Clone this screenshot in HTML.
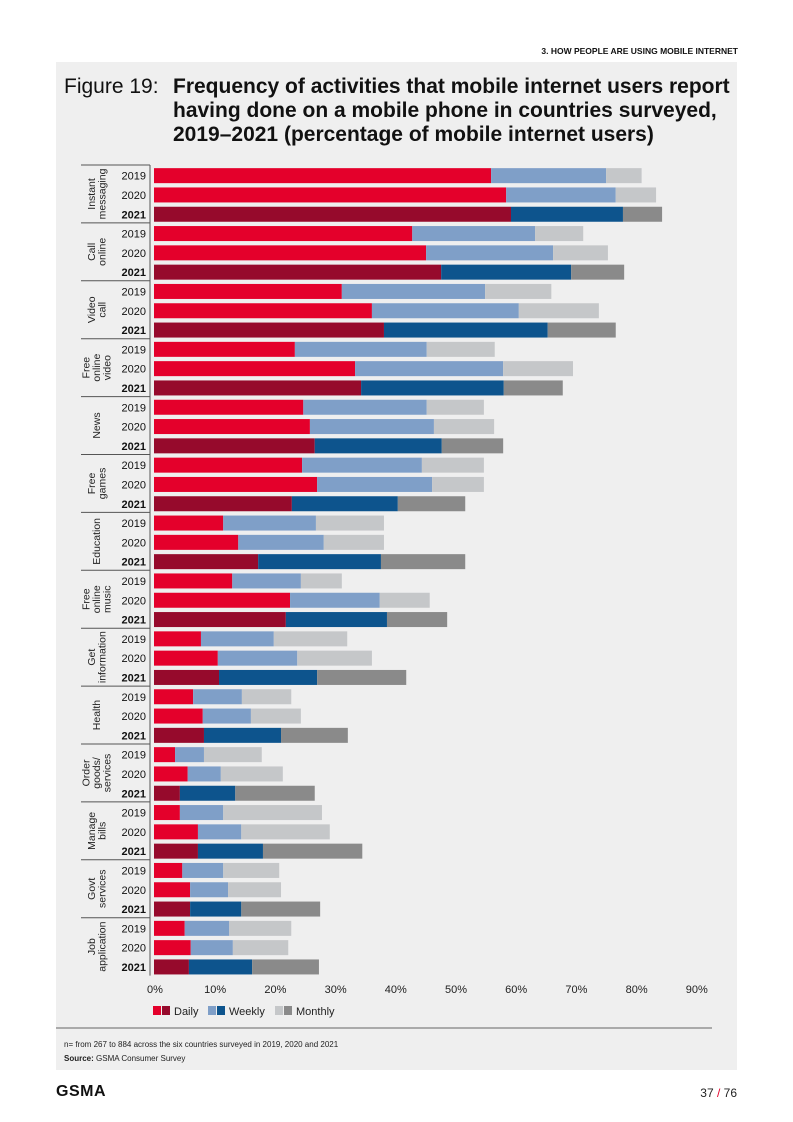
<!DOCTYPE html>
<html><head><meta charset="utf-8"><style>
body{margin:0;width:793px;height:1122px;background:#fff;font-family:"Liberation Sans",sans-serif;position:relative;overflow:hidden}
.abs{position:absolute}
</style></head><body>
<div class="abs" style="right:55px;top:46px;font-size:8.5px;font-weight:bold;color:#111">3. HOW PEOPLE ARE USING MOBILE INTERNET</div>
<div class="abs" style="left:56px;top:62px;width:681px;height:1008px;background:#efefef"></div>
<div class="abs" style="left:64px;top:75px;font-size:21px;color:#111">Figure 19:</div>
<div class="abs" style="left:173px;top:75px;font-size:21px;font-weight:bold;line-height:24px;color:#111;width:565px">Frequency of activities that mobile internet users report having done on a mobile phone in countries surveyed, 2019–2021 (percentage of mobile internet users)</div>
<svg class="abs" style="left:0;top:0" width="793" height="1122" id="chart"></svg>
<div class="abs" style="left:64px;top:1040px;font-size:8px;color:#222">n= from 267 to 884 across the six countries surveyed in 2019, 2020 and 2021</div>
<div class="abs" style="left:64px;top:1054px;font-size:8px;color:#222"><b>Source:</b> GSMA Consumer Survey</div>
<div class="abs" style="left:56px;top:1083px;font-size:16px;font-weight:bold;letter-spacing:0.5px;color:#111">GSMA</div>
<div class="abs" style="right:56px;top:1086px;font-size:12px;color:#222">37 <span style="color:#e4002b">/</span> 76</div>
<script>
const groups=["Instant messaging","Call online","Video call","Free online video","News","Free games","Education","Free online music","Get information","Health","Order goods/ services","Manage bills","Govt services","Job application"];
const groupLines=[["Instant","messaging"],["Call","online"],["Video","call"],["Free","online","video"],["News"],["Free","games"],["Education"],["Free","online","music"],["Get","information"],["Health"],["Order","goods/","services"],["Manage","bills"],["Govt","services"],["Job","application"]];
const years=["2019","2020","2021"];
const daily=[56,58.5,59.3,42.9,45.2,47.7,31.2,36.2,38.2,23.4,33.4,34.4,24.8,25.9,26.7,24.6,27.1,22.9,11.5,14,17.3,13,22.6,21.9,7.8,10.6,10.8,6.5,8.1,8.3,3.5,5.6,4.3,4.3,7.3,7.3,4.7,6,6,5.1,6.1,5.8];
const dailyOrWeekly=[75.1,76.7,77.9,63.3,66.3,69.3,55,60.6,65.4,45.3,58,58.1,45.3,46.5,47.8,44.5,46.2,40.5,26.9,28.2,37.7,24.4,37.5,38.7,19.9,23.8,27.1,14.6,16.1,21.1,8.3,11.1,13.5,11.5,14.5,18.1,11.5,12.3,14.5,12.5,13.1,16.3];
const anyFreq=[81,83.4,84.4,71.3,75.4,78.1,66,73.9,76.7,56.6,69.6,67.9,54.8,56.5,58,54.8,54.8,51.7,38.2,38.2,51.7,31.2,45.8,48.7,32.1,36.2,41.9,22.8,24.4,32.2,17.9,21.4,26.7,27.9,29.2,34.6,20.8,21.1,27.6,22.8,22.3,27.4];
const ticks=[0,10,20,30,40,50,60,70,80,90];
const svg=document.getElementById('chart');const NS="http://www.w3.org/2000/svg";
const x0=154,pxPer=6.02,y0=165,rowH=19.3,barH=15;
const xs=v=>x0+v*pxPer; const ys=i=>y0+i*rowH;
function el(t,a,txt){const e=document.createElementNS(NS,t);for(const k in a)e.setAttribute(k,a[k]);if(txt!==undefined)e.textContent=txt;svg.appendChild(e);return e;}
const light=["#e4002b","#7f9fc8","#c5c7c9"],dark=["#960a2c","#0d548d","#8a8a8a"];
let l=el('line',{x1:150,x2:150,y1:y0,y2:ys(42)});l.setAttribute('stroke','#555');


groups.forEach((g,gi)=>{
  const top=ys(gi*3);
  let s=el('line',{x1:81,x2:150,y1:top,y2:top,stroke:'#555'});
  
  
  const cy=top+rowH*1.5, lines=groupLines[gi], lh=10.5;
  const t=el('text',{transform:`translate(${96},${cy}) rotate(-90)`,'text-anchor':'middle','font-size':'10.5',fill:'#222'});
  
  
  lines.forEach((ln,k)=>{const ts=document.createElementNS(NS,'tspan');ts.setAttribute('x',0);ts.setAttribute('y',(k-(lines.length-1)/2)*lh+4);ts.textContent=ln;t.appendChild(ts);});
  years.forEach((yr,yi)=>{
    const i=gi*3+yi, y=ys(i)+(rowH-barH)/2+1, pal=yi==2?dark:light;
    const yt=el('text',{x:146,y:ys(i)+rowH/2+5,'text-anchor':'end','font-size':'11','font-weight':yi==2?'bold':'normal',fill:'#111'},yr);
    
    
    const segs=[[0,daily[i]],[daily[i],dailyOrWeekly[i]],[dailyOrWeekly[i],anyFreq[i]]];
    const names=['bar-daily','bar-weekly','bar-monthly'];
    segs.forEach((sg,k)=>{const r=el('rect',{x:xs(sg[0]),y:y,width:Math.max(0,xs(sg[1])-xs(sg[0])),height:barH,fill:pal[k]});
      
      });
  });
});
ticks.forEach(t=>{const e=el('text',{x:xs(t)+1,y:993,'text-anchor':'middle','font-size':'11',fill:'#222'},t+'%');
  
  });
const leg=[["Daily",0,153],["Weekly",1,208],["Monthly",2,275]];
leg.forEach(([n,k,x])=>{
  const a=el('rect',{x:x,y:1006,width:8,height:9,fill:light[k]});
  const b=el('rect',{x:x+9,y:1006,width:8,height:9,fill:dark[k]});
  const t=el('text',{x:x+21,y:1015,'font-size':'11',fill:'#222'},n);
});
const hl=el('line',{x1:56,x2:712,y1:1028,y2:1028,stroke:'#666'});


</script>
</body></html>
